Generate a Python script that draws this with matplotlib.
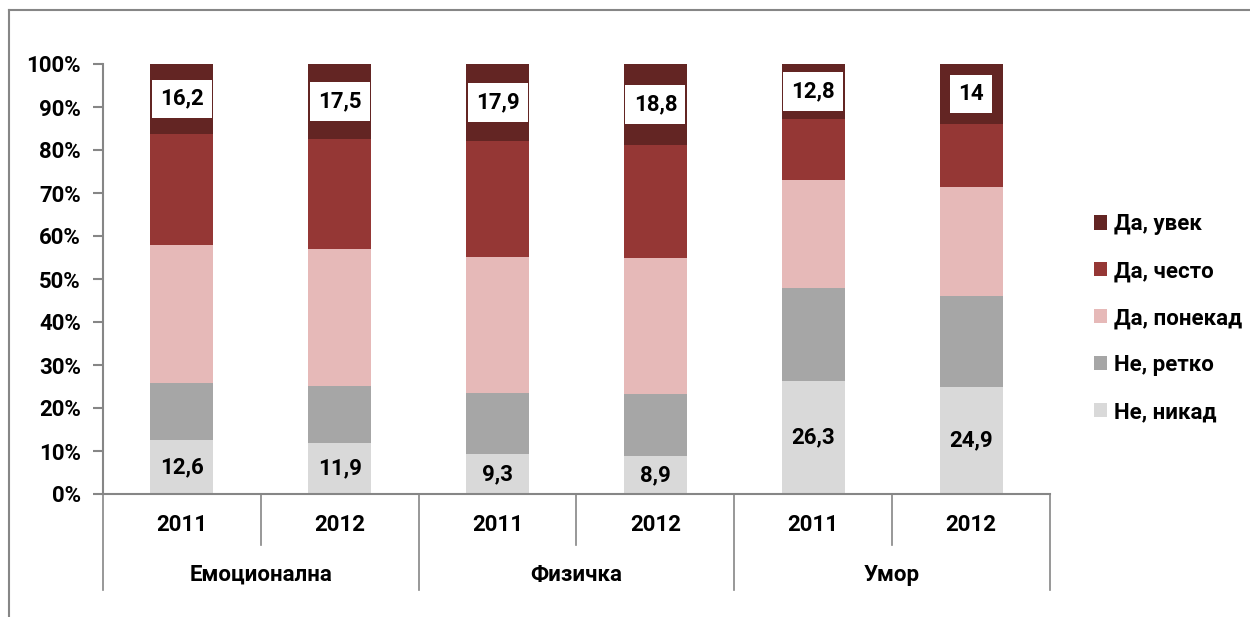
import matplotlib.pyplot as plt
from matplotlib.lines import Line2D
import numpy as np

plt.rcParams["font.family"] = ["Roboto", "DejaVu Sans"]
plt.rcParams["font.weight"] = "bold"

years = ["2011", "2012", "2011", "2012", "2011", "2012"]
groups = ["Емоционална", "Физичка", "Умор"]

series = ["Не, никад", "Не, ретко", "Да, понекад", "Да, често", "Да, увек"]
nikad = [12.6, 11.9, 9.3, 8.9, 26.3, 24.9]
retko = [13.2, 13.2, 14.2, 14.4, 21.6, 21.1]
ponekad = [32.1, 31.9, 31.6, 31.6, 25.1, 25.4]
cesto = [25.9, 25.5, 27.0, 26.3, 14.2, 14.6]
uvek = [16.2, 17.5, 17.9, 18.8, 12.8, 14.0]
labels_nikad = ["12,6", "11,9", "9,3", "8,9", "26,3", "24,9"]
labels_uvek = ["16,2", "17,5", "17,9", "18,8", "12,8", "14"]

colors = ["#D9D9D9", "#A6A6A6", "#E6B9B8", "#953735", "#632523"]
axis_gray = "#868686"
fs = 16

fig = plt.figure(figsize=(12.5, 6.17), dpi=100)
ax = fig.add_axes([103 / 1250, 1 - 494 / 617, (1050 - 103) / 1250, 430 / 617])

x = np.arange(len(years))
bottom = np.zeros(len(years))
bars = []
for name, vals, col in zip(series, [nikad, retko, ponekad, cesto, uvek], colors):
    b = ax.bar(x, vals, 0.4, bottom=bottom, color=col, label=name, linewidth=0)
    bars.append(b)
    bottom += np.array(vals)

ax.bar_label(bars[0], labels=labels_nikad, label_type="center",
             fontsize=fs, fontweight="bold", color="black")
ax.bar_label(bars[4], labels=labels_uvek, label_type="center",
             fontsize=fs, fontweight="bold", color="black",
             bbox=dict(boxstyle="square,pad=0.37", fc="white", ec="none"))

ax.set_xlim(-0.5, 5.5)
ax.set_ylim(0, 100)
ax.set_yticks(range(0, 101, 10))
ax.set_yticklabels([f"{v}%" for v in range(0, 101, 10)], fontsize=fs, fontweight="bold")
ax.set_xticks([])
ax.tick_params(axis="y", length=7, color=axis_gray, width=1.5, pad=9)
for s in ["top", "right"]:
    ax.spines[s].set_visible(False)
for s in ["left", "bottom"]:
    ax.spines[s].set_color(axis_gray)
    ax.spines[s].set_linewidth(1.5)

# hierarchical category axis
tr = ax.get_xaxis_transform()
for i, yr in enumerate(years):
    ax.text(i, -0.072, yr, transform=tr, ha="center", va="center",
            fontsize=fs, fontweight="bold")
for j, g in enumerate(groups):
    ax.text(2 * j + 0.5, -0.188, g, transform=tr, ha="center", va="center",
            fontsize=fs, fontweight="bold")
for xb in [0.5, 2.5, 4.5]:
    ax.plot([xb, xb], [0, -0.1186], transform=tr, color=axis_gray, lw=1.2, clip_on=False)
for xb in [-0.5, 1.5, 3.5, 5.5]:
    ax.plot([xb, xb], [0, -0.2233], transform=tr, color=axis_gray, lw=1.2, clip_on=False)

handles, lbls = ax.get_legend_handles_labels()
ax.legend(handles[::-1], lbls[::-1], loc="center left", bbox_to_anchor=(1.025, 0.409),
          frameon=False, handlelength=0.6, handleheight=0.6,
          handletextpad=0.3, labelspacing=1.12, prop={"weight": "bold", "size": fs})

# outer chart frame (top and left only visible)
fig.add_artist(Line2D([9 / 1250, 1], [1 - 10 / 617, 1 - 10 / 617], color=axis_gray, lw=1.5))
fig.add_artist(Line2D([9 / 1250, 9 / 1250], [0, 1 - 10 / 617], color=axis_gray, lw=1.5))

fig.savefig("out.png", dpi=100)
